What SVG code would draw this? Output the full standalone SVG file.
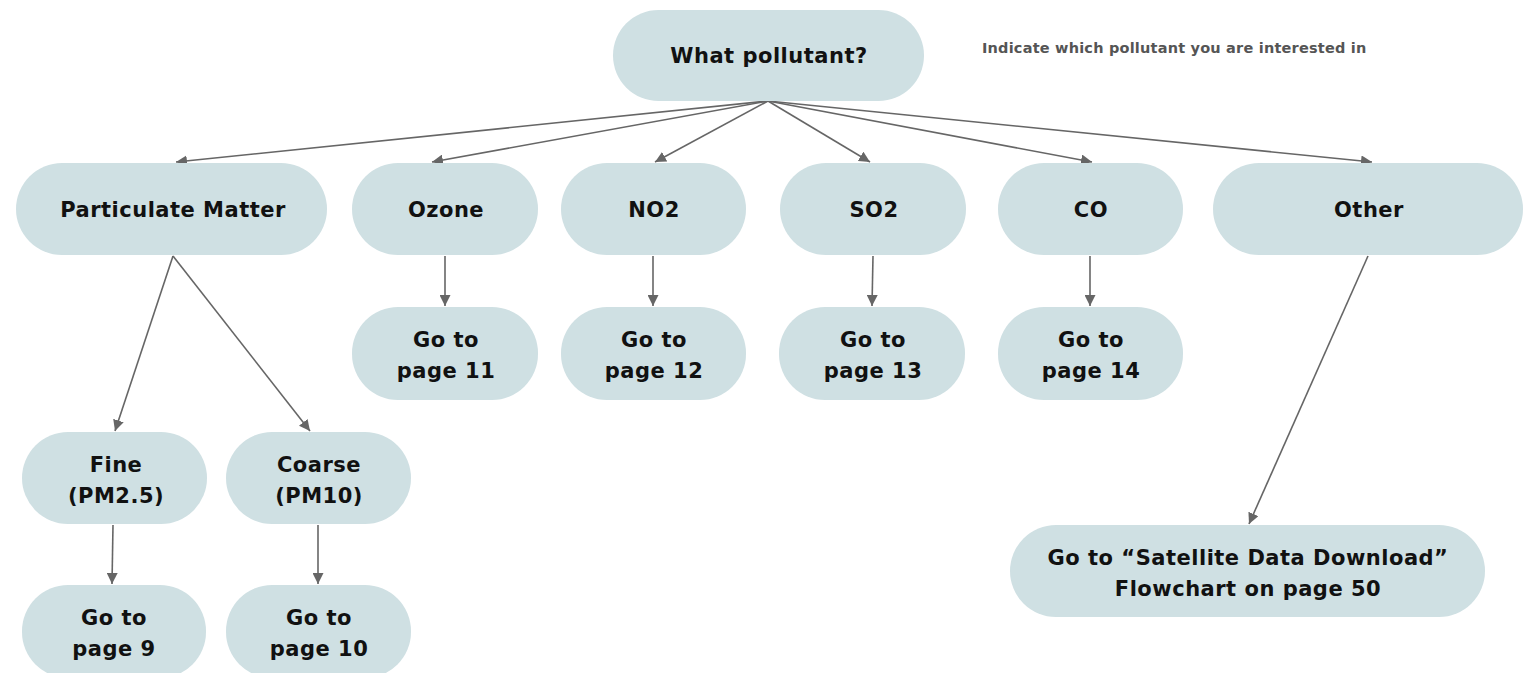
<svg xmlns="http://www.w3.org/2000/svg" width="1529" height="673" viewBox="0 0 1529 673">
<defs>
<style>
.n{fill:#cfe0e3;}
.t{font-family:"DejaVu Sans","Liberation Sans",sans-serif;font-weight:700;font-size:21px;letter-spacing:0.5px;fill:#111;text-anchor:middle;}
.note{font-family:"DejaVu Sans","Liberation Sans",sans-serif;font-weight:700;font-size:14.5px;letter-spacing:0.2px;fill:#555;}
.c line{stroke:#666;stroke-width:1.6;marker-end:url(#ah);}
</style>
<marker id="ah" viewBox="0 0 10 10" refX="10" refY="5" markerWidth="11" markerHeight="11" markerUnits="userSpaceOnUse" orient="auto"><path d="M0,0 L10,5 L0,10 z" fill="#666"/></marker>
</defs>
<rect width="1529" height="673" fill="#fff"/>
<g class="c" id="connectors">
<line x1="768" y1="101" x2="176" y2="162"/>
<line x1="768" y1="101" x2="432" y2="162"/>
<line x1="768" y1="101" x2="655" y2="162"/>
<line x1="768" y1="101" x2="870" y2="162"/>
<line x1="768" y1="101" x2="1092" y2="162"/>
<line x1="768" y1="101" x2="1372" y2="162"/>
<line x1="173" y1="256" x2="115" y2="431"/>
<line x1="173" y1="256" x2="310" y2="431"/>
<line x1="445" y1="256" x2="445" y2="306"/>
<line x1="653" y1="256" x2="653" y2="306"/>
<line x1="873" y1="256" x2="872" y2="306"/>
<line x1="1090" y1="256" x2="1090" y2="306"/>
<line x1="113" y1="525" x2="112" y2="584"/>
<line x1="318" y1="525" x2="318" y2="584"/>
<line x1="1368" y1="256" x2="1249" y2="524"/>
</g>
<g id="q"><rect class="n" x="613" y="10" width="311" height="91" rx="45.5"/><text class="t" x="769" y="63">What pollutant?</text></g>
<text class="note" x="982" y="53">Indicate which pollutant you are interested in</text>
<g id="pm"><rect class="n" x="16" y="163" width="311" height="92" rx="46"/><text class="t" x="173" y="217">Particulate Matter</text></g>
<g id="ozone"><rect class="n" x="352" y="163" width="186" height="92" rx="46"/><text class="t" x="446" y="217">Ozone</text></g>
<g id="no2"><rect class="n" x="561" y="163" width="185" height="92" rx="46"/><text class="t" x="654" y="217">NO2</text></g>
<g id="so2"><rect class="n" x="780" y="163" width="186" height="92" rx="46"/><text class="t" x="874" y="217">SO2</text></g>
<g id="co"><rect class="n" x="998" y="163" width="185" height="92" rx="46"/><text class="t" x="1091" y="217">CO</text></g>
<g id="other"><rect class="n" x="1213" y="163" width="310" height="92" rx="46"/><text class="t" x="1369" y="217">Other</text></g>
<g id="p11"><rect class="n" x="352" y="307" width="186" height="93" rx="46"/><text class="t" x="446" y="347">Go to</text><text class="t" x="446" y="378">page 11</text></g>
<g id="p12"><rect class="n" x="561" y="307" width="185" height="93" rx="46"/><text class="t" x="654" y="347">Go to</text><text class="t" x="654" y="378">page 12</text></g>
<g id="p13"><rect class="n" x="779" y="307" width="186" height="93" rx="46"/><text class="t" x="873" y="347">Go to</text><text class="t" x="873" y="378">page 13</text></g>
<g id="p14"><rect class="n" x="998" y="307" width="185" height="93" rx="46"/><text class="t" x="1091" y="347">Go to</text><text class="t" x="1091" y="378">page 14</text></g>
<g id="fine"><rect class="n" x="22" y="432" width="185" height="92" rx="46"/><text class="t" x="116" y="472">Fine</text><text class="t" x="116" y="503">(PM2.5)</text></g>
<g id="coarse"><rect class="n" x="226" y="432" width="185" height="92" rx="46"/><text class="t" x="319" y="472">Coarse</text><text class="t" x="319" y="503">(PM10)</text></g>
<g id="p9"><rect class="n" x="22" y="585" width="184" height="93" rx="46"/><text class="t" x="114" y="625">Go to</text><text class="t" x="114" y="656">page 9</text></g>
<g id="p10"><rect class="n" x="226" y="585" width="185" height="93" rx="46"/><text class="t" x="319" y="625">Go to</text><text class="t" x="319" y="656">page 10</text></g>
<g id="sat"><rect class="n" x="1010" y="525" width="475" height="92" rx="46"/><text class="t" x="1248" y="565">Go to “Satellite Data Download”</text><text class="t" x="1248" y="596">Flowchart on page 50</text></g>
</svg>
